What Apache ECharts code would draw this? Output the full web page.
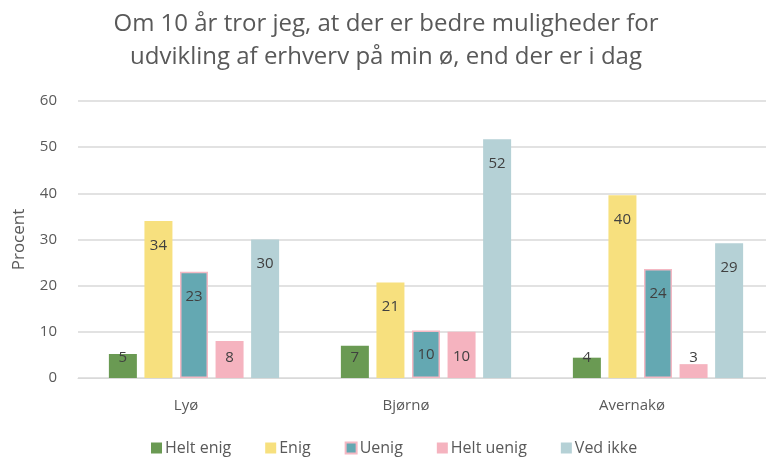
<!DOCTYPE html>
<html>
<head>
<meta charset="utf-8">
<script src="https://cdn.jsdelivr.net/npm/echarts@6/dist/echarts.min.js"></script>
<style>
  html, body { margin: 0; padding: 0; background: #fff; }
  #chart { width: 766px; height: 462px; }
</style>
</head>
<body>
<div id="chart"></div>
<script>
const islands = ["Lyø", "Bjørnø", "Avernakø"];
const heltEnig = [5.2, 7, 4.4];
const enig = [34, 20.7, 39.6];
const uenig = [23, 10.3, 23.6];
const heltUenig = [8, 10, 3.0];
const vedIkke = [30, 51.7, 29.2];
const yTicks = [0, 10, 20, 30, 40, 50, 60];

const font = "'Open Sans', 'Noto Sans', sans-serif";

const chart = echarts.init(document.getElementById("chart"));

// short bars: label sits at a fixed height near the bottom, like Excel does
function labelFor(v) {
  if (v < 9) {
    return { position: "insideBottom", distance: 13 };
  }
  return { position: "insideTop", distance: 17 };
}

function bar(name, data, color, border) {
  return {
    type: "bar",
    name: name,
    data: data.map((v) => ({ value: v, label: labelFor(v) })),
    barWidth: 28,
    barGap: "27%",
    itemStyle: {
      color: color,
      borderColor: border || color,
      borderWidth: border ? 1.5 : 0,
    },
    label: {
      show: true,
      color: "#404040",
      fontSize: 15,
      fontFamily: font,
      formatter: (p) => Math.round(p.value),
    },
  };
}

chart.setOption({
  animation: false,
  title: {
    text: "Om 10 år tror jeg, at der er bedre muligheder for\nudvikling af erhverv på min ø, end der er i dag",
    left: 381,
    textAlign: "center",
    top: 3,
    textStyle: {
      color: "#595959",
      fontSize: 24,
      fontWeight: "normal",
      fontFamily: font,
      lineHeight: 33,
    },
  },
  grid: { left: 78, right: -8, top: 101, bottom: 84, outerBoundsMode: "none" },
  legend: {
    bottom: 1,
    left: 146,
    itemWidth: 11,
    itemHeight: 11,
    itemGap: 34,
    icon: "rect",
    textStyle: { color: "#595959", fontSize: 16, fontFamily: font, padding: [0, 0, 0, -2] },
  },
  xAxis: {
    type: "category",
    data: islands,
    axisTick: { show: false },
    axisLine: { lineStyle: { color: "#d9d9d9" } },
    axisLabel: {
      margin: 20,
      formatter: (v, i) => "{c" + i + "|" + v + "}",
      rich: {
        c0: { color: "#595959", fontSize: 15, fontFamily: font, padding: [0, 16, 0, 0] },
        c1: { color: "#595959", fontSize: 15, fontFamily: font, padding: [0, 40, 0, 0] },
        c2: { color: "#595959", fontSize: 15, fontFamily: font, padding: [0, 52, 0, 0] },
      },
    },
  },
  yAxis: {
    type: "value",
    min: yTicks[0],
    max: yTicks[yTicks.length - 1],
    interval: 10,
    name: "Procent",
    nameLocation: "middle",
    nameGap: 50,
    nameTextStyle: { color: "#595959", fontSize: 17, fontFamily: font },
    axisLine: { show: false },
    axisTick: { show: false },
    axisLabel: { color: "#595959", fontSize: 15, fontFamily: font, margin: 21 },
    splitLine: { lineStyle: { color: "#d9d9d9", width: 1.5 } },
  },
  series: [
    bar("Helt enig", heltEnig, "#6a9a53"),
    bar("Enig", enig, "#f7e07e"),
    bar("Uenig", uenig, "#64a8b2", "#f4b8c3"),
    bar("Helt uenig", heltUenig, "#f5b3bf"),
    bar("Ved ikke", vedIkke, "#b5d1d6"),
  ],
});
</script>
</body>
</html>
